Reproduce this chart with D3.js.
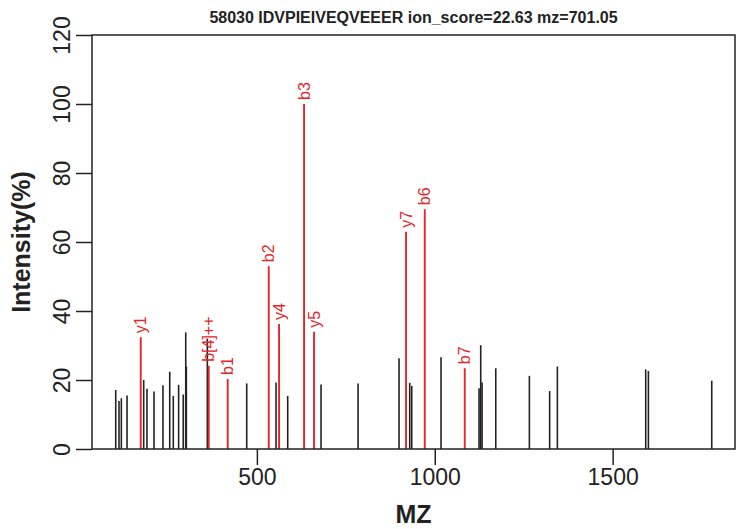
<!DOCTYPE html>
<html>
<head>
<meta charset="utf-8">
<script src="https://cdn.jsdelivr.net/npm/d3@7"></script>
<style>
  body { margin: 0; background: #fff; }
  svg { font-family: "Liberation Sans", Arial, sans-serif; }
</style>
</head>
<body>
<div id="spectrum"></div>
<script>
// unmatched peaks (black)
const peakMz = [103.2, 112.4, 119, 135, 181.8, 191, 210.8, 236, 255, 265, 280, 293, 300, 301.7,
    360.7, 471.4, 553.8, 586.6, 680.4, 784.4, 899.6, 929.6, 935.3, 1017.7, 1124.5, 1129.2, 1133,
    1171.5, 1266, 1323, 1344.7, 1593, 1600.6, 1778.6];
const peakIntensity = [17.1, 13.9, 14.7, 15.5, 20, 17.5, 16.7, 18.5, 22.4, 15.4, 18.6, 15.8, 33.8, 23.9,
    32, 19, 19.3, 15.4, 18.7, 19, 26.3, 19.2, 18.3, 26.6, 17.6, 30.1, 19.3,
    23.4, 21.2, 16.8, 23.9, 23.1, 22.6, 19.8];

// matched ions (red)
const ionLabels = ["y1", "b[4]++", "b1", "b2", "y4", "b3", "y5", "y7", "b6", "b7"];
const ionMz = [173.5, 364.6, 418, 533.3, 562.3, 632.6, 660.7, 919.3, 971.9, 1084.3];
const ionIntensity = [32.4, 24.1, 20.3, 53, 36.2, 100, 34, 63, 69.5, 23.4];

const xTicks = [500, 1000, 1500];
const yTicks = [0, 20, 40, 60, 80, 100, 120];
const title = "58030 IDVPIEIVEQVEEER ion_score=22.63 mz=701.05";

const margin = { top: 35, right: 11, bottom: 80, left: 92 };
const width = 746 - margin.left - margin.right;
const height = 529 - margin.top - margin.bottom;

const svg = d3.select("#spectrum")
    .append("svg")
    .attr("width", 746)
    .attr("height", 529)
    .append("g")
    .attr("transform", "translate(" + margin.left + "," + margin.top + ")");

const x = d3.scaleLinear().domain([36.5, 1844]).range([0, width]);
const y = d3.scaleLinear().domain([0, 120]).range([height, 0]);

// black peaks
svg.selectAll(".peak")
    .data(peakMz.map((m, i) => ({ mz: m, intensity: peakIntensity[i] })))
    .enter().append("line")
    .attr("class", "peak")
    .attr("x1", d => x(d.mz)).attr("x2", d => x(d.mz))
    .attr("y1", y(0)).attr("y2", d => y(d.intensity))
    .attr("stroke", "#222")
    .attr("stroke-width", 1.6);

const ions = ionMz.map((m, i) => ({ mz: m, intensity: ionIntensity[i], label: ionLabels[i] }));

// red ions
svg.selectAll(".ion")
    .data(ions)
    .enter().append("line")
    .attr("class", "ion")
    .attr("x1", d => x(d.mz)).attr("x2", d => x(d.mz))
    .attr("y1", y(0)).attr("y2", d => y(d.intensity))
    .attr("stroke", "#e3262b")
    .attr("stroke-width", 1.9);

svg.selectAll(".ion-label")
    .data(ions)
    .enter().append("text")
    .attr("class", "ion-label")
    .attr("transform", d => "translate(" + x(d.mz) + "," + (y(d.intensity) - 4) + ") rotate(-90)")
    .attr("dy", "0.35em")
    .attr("fill", "#e3262b")
    .style("font-size", "16px")
    .text(d => d.label);

// box
svg.append("rect")
    .attr("width", width)
    .attr("height", height)
    .attr("fill", "none")
    .attr("stroke", "#222")
    .attr("stroke-width", 1.5);

// x axis
const xAxis = svg.append("g")
    .attr("transform", "translate(0," + height + ")")
    .call(d3.axisBottom(x).tickValues(xTicks).tickSize(16).tickPadding(4).tickFormat(d3.format("d")));
xAxis.select(".domain").remove();
xAxis.selectAll("line").attr("stroke", "#222").attr("stroke-width", 1.5);
xAxis.selectAll("text").style("font-size", "23px").attr("fill", "#222").style("font-family", "Liberation Sans, Arial, sans-serif");

// y axis
const yAxis = svg.append("g")
    .call(d3.axisLeft(y).tickValues(yTicks).tickSize(16).tickPadding(0));
yAxis.select(".domain").remove();
yAxis.selectAll("line").attr("stroke", "#222").attr("stroke-width", 1.5);
yAxis.selectAll("text")
    .attr("x", 0).attr("dy", 0)
    .attr("transform", "translate(-30,0) rotate(-90)")
    .attr("text-anchor", "middle")
    .attr("dominant-baseline", "central")
    .style("font-size", "23px").attr("fill", "#222")
    .style("font-family", "Liberation Sans, Arial, sans-serif");

// labels
svg.append("text")
    .attr("x", width / 2)
    .attr("y", -12)
    .attr("text-anchor", "middle")
    .style("font-size", "16px")
    .style("font-weight", "bold")
    .attr("fill", "#222")
    .text(title);

svg.append("text")
    .attr("x", width / 2)
    .attr("y", height + 74)
    .attr("text-anchor", "middle")
    .style("font-size", "25px")
    .style("font-weight", "bold")
    .attr("fill", "#222")
    .text("MZ");

svg.append("text")
    .attr("transform", "rotate(-90)")
    .attr("x", -height / 2)
    .attr("y", -62)
    .attr("text-anchor", "middle")
    .style("font-size", "25px")
    .style("font-weight", "bold")
    .attr("fill", "#222")
    .text("Intensity(%)");
</script>
</body>
</html>
